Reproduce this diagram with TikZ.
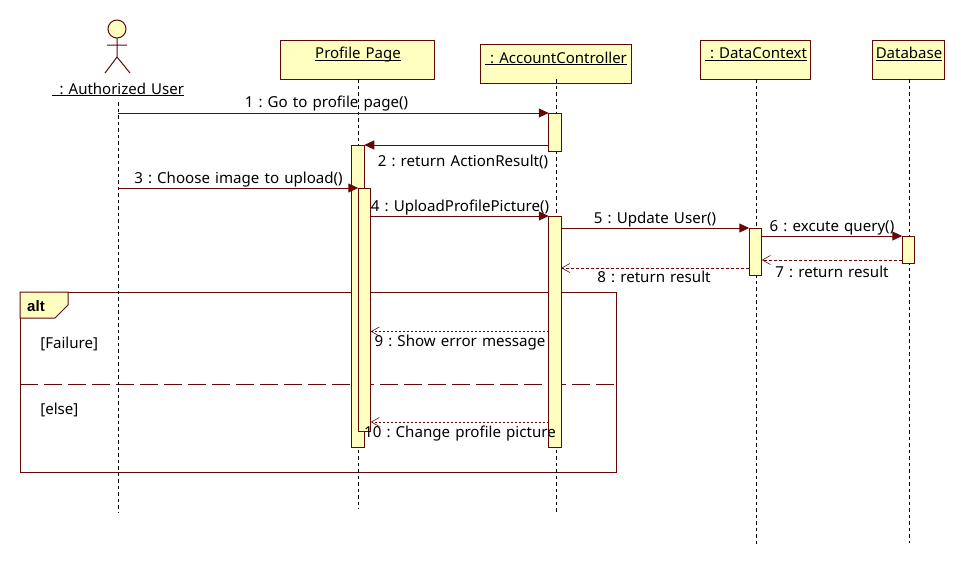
\documentclass[tikz,border=0pt]{standalone}
\usepackage{fontspec}
\setmainfont[WordSpace=1.3]{Noto Sans}
\newfontfamily\altfont{Liberation Sans}
\usetikzlibrary{arrows.meta}
\usetikzlibrary{calc}
\usetikzlibrary{positioning}
\definecolor{umlline}{HTML}{620808}
\definecolor{umlfill}{HTML}{FFFFC0}
\newcommand{\msgfont}{\fontsize{15.1}{16}\selectfont\frenchspacing}
\newcommand{\namefont}{\fontsize{15}{16}\selectfont\frenchspacing}
\newcommand{\ulname}[1]{\underline{\smash{#1}}}

\begin{document}
\begin{tikzpicture}[x=1pt,y=-1pt,-,semithick]
	\tikzstyle{head}=[draw=umlline,fill=umlfill,line width=1pt,inner sep=0pt,outer sep=0pt,minimum height=39pt]
	\tikzstyle{act}=[draw=umlline,fill=umlfill,line width=1pt,inner sep=0pt,outer sep=0pt,minimum width=12.5pt]
	\tikzstyle{life}=[black,line width=0.9pt,dash pattern=on 3.5pt off 3pt]
	\tikzstyle{call}=[umlline,line width=1pt,-{Triangle[length=10pt,width=9pt]}]
	\tikzstyle{back}=[umlline,line width=0.8pt,dash pattern=on 3pt off 2pt,-{Straight Barb[length=8pt,width=9pt,line width=0.6pt]}]
	\tikzstyle{lbl}=[inner sep=0pt,font=\msgfont,text=black]
	\tikzstyle{objname}=[inner sep=0pt,font=\namefont,text=black,anchor=base]
	\useasboundingbox (0,0) rectangle (965,568);

	% frame
	\node[draw=umlline,line width=1pt,inner sep=0pt,outer sep=0pt,minimum width=596pt,minimum height=180pt] (alt) at (318,382) {};
	\draw[umlline,fill=umlfill,line width=1pt] (alt.north west) -- ++(48,0) -- ++(0,13) -- ++(-13,13) -- ++(-35,0) -- cycle;
	\coordinate (sepl) at (20,384.5);
	\coordinate (sepr) at (616,384.5);
	\draw[umlline,line width=1pt,dash pattern=on 18pt off 6pt] (sepl) -- (sepr);

	% objects
	\draw[umlline,fill=umlfill,line width=1pt] (117,29) circle (9);
	\coordinate (neck) at (117,38);
	\coordinate (hip) at (117,57);
	\coordinate (arml) at (107,45);
	\coordinate (armr) at (127,45);
	\coordinate (footl) at (105,73);
	\coordinate (footr) at (130,73);
	\draw[umlline,line width=1pt] (neck) -- (hip) (arml) -- (armr) (footl) -- (hip) -- (footr);
	\node[objname] (user) at (118,94) {\ulname{\ \,:\ Authorized User}};
	\node[head,minimum width=154pt] (page) at (357,59.5) {};
	\node[head,minimum width=151pt] (ctrl) at (555.5,63.5) {};
	\node[head,minimum width=110pt] (data) at (755.5,59.5) {};
	\node[head,minimum width=72pt] (base) at (908,59.5) {};
	\node[objname] at (358,58.5) {\ulname{Profile Page}};
	\node[objname] at (556,63) {\ulname{\ :\ AccountController}};
	\node[objname] at (756,58.5) {\ulname{\ :\ DataContext}};
	\node[objname] at (909,58.5) {\ulname{Database}};

	% lifelines
	\coordinate (userend) at (118,513);
	\coordinate (pageend) at (358,509);
	\coordinate (ctrlend) at (556,512);
	\coordinate (dataend) at (756,545);
	\coordinate (baseend) at (909,543);
	\coordinate (usertop) at (118,102);
	\draw[life] (usertop) -- (userend);
	\foreach \i/\x in {page/358,ctrl/556,data/756,base/909}{
		\draw[life] (\x,79) -- (\i end);
	}

	% activations
	\node[act,minimum height=38pt] (ctrl1) at (555,132) {};
	\node[act,minimum height=302pt] (page1) at (358,296) {};
	\node[act,minimum height=243pt] (page2) at (364.5,309.5) {};
	\node[act,minimum height=231pt] (ctrl2) at (555,331.5) {};
	\node[act,minimum height=47pt] (data1) at (755.5,251.5) {};
	\node[act,minimum height=27pt] (base1) at (908.5,249.5) {};

	% messages
	\draw[call] (usertop |- ctrl1.north) -- (ctrl1.north west);
	\draw[call] (ctrl1.west |- page1.north) -- (page1.north east);
	\draw[call] (usertop |- page2.north) -- (page2.north west);
	\draw[call] (page2.east |- ctrl2.north) -- (ctrl2.north west);
	\draw[call] (ctrl2.east |- data1.north) -- (data1.north west);
	\draw[call] (data1.east |- base1.north) -- (base1.north west);
	\coordinate (y7) at (0,260);
	\coordinate (y8) at (0,268);
	\coordinate (y9) at (0,331.5);
	\coordinate (y10) at (0,422);
	\draw[back] (base1.west |- y7) -- (data1.east |- y7);
	\draw[back] (data1.west |- y8) -- (ctrl2.east |- y8);
	\draw[back,dash pattern=on 2pt off 2pt] (ctrl2.west |- y9) -- (page2.east |- y9);
	\draw[back,dash pattern=on 2pt off 2pt] (ctrl2.west |- y10) -- (page2.east |- y10);

	% labels
	\node[lbl] at (326.5,104) {1 : Go to profile page()};
	\node[lbl] at (463,162) {2 : return ActionResult()};
	\node[lbl] at (238.5,180) {3 : Choose image to upload()};
	\node[lbl] at (460,208) {4 : UploadProfilePicture()};
	\node[lbl] at (655,220) {5 : Update User()};
	\node[lbl] at (832,228) {6 : excute query()};
	\node[lbl] at (832,272) {7 : return result};
	\node[lbl] at (654,277) {8 : return result};
	\node[lbl] at (460,343) {9 : Show error message};
	\node[lbl] at (460,434) {10 : Change profile picture};
	\node[lbl,font=\msgfont\altfont\bfseries] at (36,306) {alt};
	\node[lbl,anchor=west] at (40,344) {[Failure]};
	\node[lbl,anchor=west] at (40,410) {[else]};
\end{tikzpicture}
\end{document}
